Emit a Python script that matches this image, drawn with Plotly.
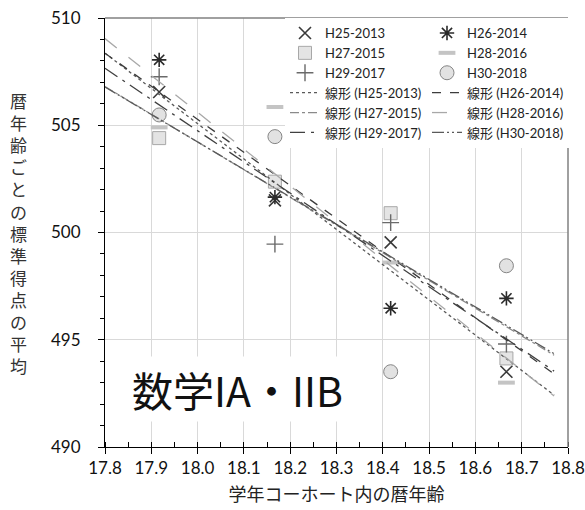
import numpy as np
import plotly.graph_objects as go

# ---- data ----
ages = [17.917, 18.167, 18.417, 18.667]
series_names = ["H25-2013", "H26-2014", "H27-2015", "H28-2016", "H29-2017", "H30-2018"]
h25 = [506.55, 501.5, 499.54, 493.51]
h26 = [508.05, 501.65, 496.47, 496.93]
h27 = [504.4, 502.37, 500.9, 494.13]
h28 = [504.9, 505.85, 498.6, 493.0]
h29 = [507.26, 499.46, 500.46, 494.8]
h30 = [505.48, 504.47, 493.51, 498.45]
trend_range = [17.8, 18.77]
x_ticks = [17.8, 17.9, 18.0, 18.1, 18.2, 18.3, 18.4, 18.5, 18.6, 18.7, 18.8]
y_ticks = [490, 495, 500, 505, 510]

values = [h25, h26, h27, h28, h29, h30]

JP = "Noto Sans CJK JP"
MIX = "Lato, Noto Sans CJK JP"

marker_styles = [
    dict(symbol="x-thin-open", size=12, color="#3a3a3a", line=dict(color="#3a3a3a", width=1.6)),
    dict(symbol="asterisk-open", size=12, color="#2a2a2a", line=dict(color="#2a2a2a", width=1.6)),
    dict(symbol="square", size=13, color="#e4e4e4", line=dict(color="#a8a8a8", width=1)),
    dict(symbol="line-ew-open", size=12, color="#c4c4c4", line=dict(color="#c4c4c4", width=4)),
    dict(symbol="cross-thin-open", size=12, color="#6a6a6a", line=dict(color="#6a6a6a", width=1.4)),
    dict(symbol="circle", size=14, color="#e2e2e2", line=dict(color="#858585", width=1)),
]
line_styles = [
    dict(color="#5a5a5a", width=1.3, dash="dot"),
    dict(color="#3c3c3c", width=1.3, dash="dash"),
    dict(color="#8a8a8a", width=1.3, dash="dashdot"),
    dict(color="#a8a8a8", width=1.3, dash="longdash"),
    dict(color="#404040", width=1.3, dash="longdashdot"),
    dict(color="#5a5a5a", width=1.3, dash="12px,3px,2px,3px,2px,3px"),
]

fig = go.Figure()
legends = ["legend", "legend2", "legend", "legend2", "legend", "legend2"]

for i, (name, vals) in enumerate(zip(series_names, values)):
    fig.add_trace(go.Scatter(
        x=ages, y=vals, mode="markers", name=name,
        marker=marker_styles[i], legend=legends[i], legendrank=i,
    ))

for i, (name, vals) in enumerate(zip(series_names, values)):
    slope, intercept = np.polyfit(ages, vals, 1)
    tx = np.array(trend_range)
    fig.add_trace(go.Scatter(
        x=tx, y=slope * tx + intercept, mode="lines",
        name="線形 (" + name + ")", line=line_styles[i],
        legend=legends[i], legendrank=10 + i,
    ))

legend_common = dict(
    bgcolor="white", borderwidth=0, orientation="v",
    font=dict(family=MIX, size=13, color="#222"),
    itemwidth=30, yanchor="top", xanchor="left", tracegroupgap=0,
)
fig.update_layout(
    legend=dict(x=(285 - 105) / 463, y=1.0, **legend_common),
    legend2=dict(x=(427 - 105) / 463, y=1.0, **legend_common),
)

fig.update_xaxes(
    range=[17.8, 18.8], tickvals=x_ticks, tickformat=".1f",
    showgrid=True, gridcolor="#d9d9d9", gridwidth=1,
    showline=True, linecolor="#000", linewidth=1,
    ticks="outside", ticklen=6, tickcolor="#000",
    minor=dict(dtick=0.05, ticks="inside", ticklen=5, tickcolor="#000", showgrid=False),
    tickfont=dict(family="Lato", size=17, color="#111"),
    title=dict(text="学年コーホート内の暦年齢", font=dict(family=JP, size=18, color="#222"), standoff=10),
    zeroline=False, automargin=False,
)
fig.update_yaxes(
    range=[490, 510], tickvals=y_ticks,
    showgrid=True, gridcolor="#d9d9d9", gridwidth=1,
    showline=True, linecolor="#000", linewidth=1,
    ticks="outside", ticklen=6, tickcolor="#000",
    minor=dict(dtick=1, ticks="outside", ticklen=4, tickcolor="#000", showgrid=False),
    tickfont=dict(family="Lato", size=17, color="#111"),
    ticklabelstandoff=14,
    zeroline=False, automargin=False,
)

# frame top/right
fig.add_shape(type="line", xref="paper", yref="paper", x0=0, x1=1, y0=1, y1=1,
              line=dict(color="#808080", width=1.5))
fig.add_shape(type="line", xref="paper", yref="paper", x0=1, x1=1, y0=0, y1=1,
              line=dict(color="#808080", width=1.5))

# vertical y title
ytitle = "暦年齢ごとの標準得点の平均"
fig.add_annotation(
    text="<br>".join(list(ytitle)), xref="paper", yref="paper",
    x=(18 - 105) / 463, y=0.5, xanchor="center", yanchor="middle",
    showarrow=False, font=dict(family=JP, size=17, color="#333"),
)

# big label
fig.add_annotation(
    text="数学IA・IIB", xref="x", yref="y", x=18.087, y=492.7,
    xanchor="center", yanchor="middle", showarrow=False,
    font=dict(family=JP, size=41, color="#111"), bgcolor="white", borderpad=2,
)

fig.update_layout(
    width=585, height=510,
    margin=dict(l=105, r=17, t=18, b=63, autoexpand=False),
    plot_bgcolor="white", paper_bgcolor="white",
    showlegend=True,
)

fig.write_html("out.html")
